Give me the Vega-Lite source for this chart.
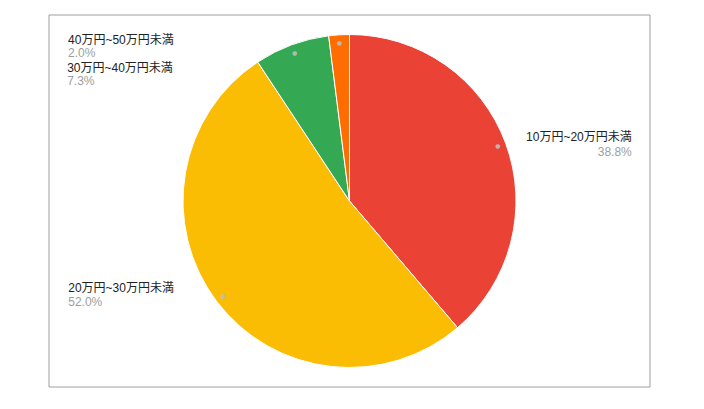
{
  "$schema": "https://vega.github.io/schema/vega-lite/v6.json",
  "width": 601,
  "height": 372,
  "autosize": {"type": "none"},
  "padding": {"left": 49, "top": 15, "right": 54, "bottom": 22},
  "background": "#ffffff",
  "config": {
    "view": {"stroke": null},
    "text": {"font": "Arial, 'Noto Sans CJK JP', sans-serif", "fontSize": 12}
  },
  "data": {
    "values": [
      {"label": "10万円~20万円未満", "share": 0.388},
      {"label": "20万円~30万円未満", "share": 0.520},
      {"label": "30万円~40万円未満", "share": 0.073},
      {"label": "40万円~50万円未満", "share": 0.020}
    ]
  },
  "layer": [
    {
      "transform": [{"aggregate": [{"op": "count", "as": "n"}]}],
      "mark": {"type": "rect", "fill": null, "stroke": "#9e9e9e", "strokeWidth": 1},
      "encoding": {}
    },
    {
      "encoding": {
        "theta": {"field": "share", "type": "quantitative", "stack": true},
        "order": {"field": "label", "type": "ordinal", "sort": "ascending"},
        "detail": {"field": "label", "type": "nominal"}
      },
      "layer": [
        {
          "mark": {"type": "arc", "outerRadius": 166.5, "stroke": "#ffffff", "strokeWidth": 1},
          "encoding": {
            "color": {
              "field": "label",
              "type": "nominal",
              "scale": {
                "domain": ["10万円~20万円未満", "20万円~30万円未満", "30万円~40万円未満", "40万円~50万円未満"],
                "range": ["#EA4335", "#FBBC04", "#34A853", "#FF6D01"]
              },
              "legend": null
            }
          }
        },
        {
          "mark": {"type": "text", "radius": 158, "text": "●", "fontSize": 6, "font": "DejaVu Sans", "color": "#bdbdbd", "opacity": 0.9, "align": "center", "baseline": "middle"}
        },
        {
          "mark": {"type": "text", "radius": 158, "align": "right", "baseline": "alphabetic", "dx": 134, "dy": -5, "color": "#222222"},
          "encoding": {"text": {"condition": {"test": "datum.label === '10万円~20万円未満'", "field": "label", "type": "nominal"}, "value": ""}}
        },
        {
          "mark": {"type": "text", "radius": 158, "align": "right", "baseline": "alphabetic", "dx": 134, "dy": 10, "color": "#9e9e9e"},
          "encoding": {"text": {"condition": {"test": "datum.label === '10万円~20万円未満'", "field": "share", "type": "quantitative", "format": ".1%"}, "value": ""}}
        },
        {
          "mark": {"type": "text", "radius": 158, "align": "left", "baseline": "alphabetic", "dx": -155, "dy": -4, "color": "#222222"},
          "encoding": {"text": {"condition": {"test": "datum.label === '20万円~30万円未満'", "field": "label", "type": "nominal"}, "value": ""}}
        },
        {
          "mark": {"type": "text", "radius": 158, "align": "left", "baseline": "alphabetic", "dx": -155, "dy": 10.5, "color": "#9e9e9e"},
          "encoding": {"text": {"condition": {"test": "datum.label === '20万円~30万円未満'", "field": "share", "type": "quantitative", "format": ".1%"}, "value": ""}}
        },
        {
          "mark": {"type": "text", "radius": 158, "align": "left", "baseline": "alphabetic", "dx": -227.5, "dy": 19.5, "color": "#222222"},
          "encoding": {"text": {"condition": {"test": "datum.label === '30万円~40万円未満'", "field": "label", "type": "nominal"}, "value": ""}}
        },
        {
          "mark": {"type": "text", "radius": 158, "align": "left", "baseline": "alphabetic", "dx": -227.5, "dy": 32.5, "color": "#9e9e9e"},
          "encoding": {"text": {"condition": {"test": "datum.label === '30万円~40万円未満'", "field": "share", "type": "quantitative", "format": ".1%"}, "value": ""}}
        },
        {
          "mark": {"type": "text", "radius": 158, "align": "left", "baseline": "alphabetic", "dx": -271.5, "dy": 0.7, "color": "#222222"},
          "encoding": {"text": {"condition": {"test": "datum.label === '40万円~50万円未満'", "field": "label", "type": "nominal"}, "value": ""}}
        },
        {
          "mark": {"type": "text", "radius": 158, "align": "left", "baseline": "alphabetic", "dx": -271.5, "dy": 13.7, "color": "#9e9e9e"},
          "encoding": {"text": {"condition": {"test": "datum.label === '40万円~50万円未満'", "field": "share", "type": "quantitative", "format": ".1%"}, "value": ""}}
        }
      ]
    }
  ]
}
